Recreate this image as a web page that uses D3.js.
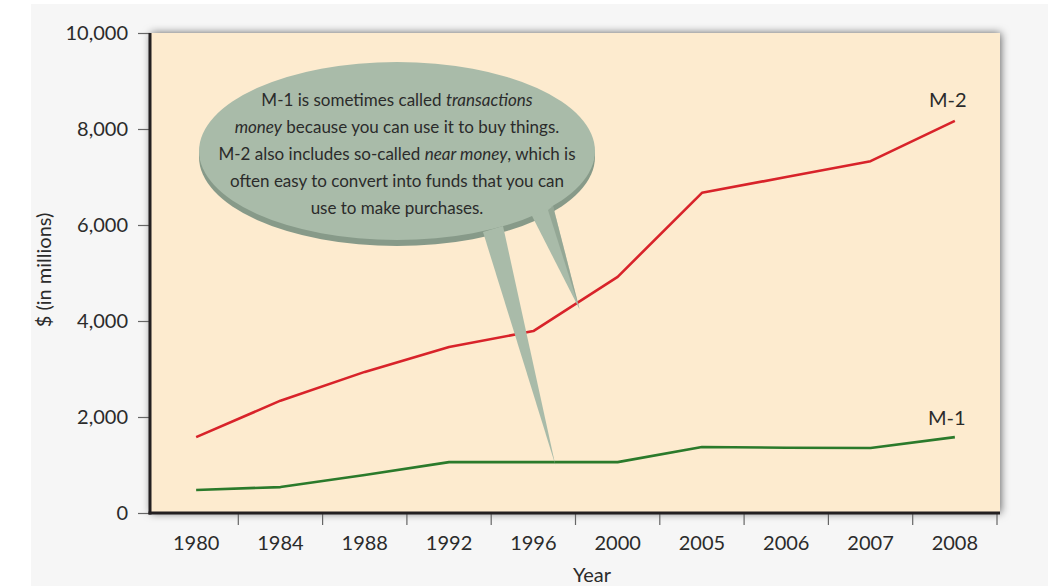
<!DOCTYPE html>
<html>
<head>
<meta charset="utf-8">
<script src="https://cdn.jsdelivr.net/npm/d3@7"></script>
<style>
  html, body { margin: 0; padding: 0; background: #ffffff; }
  svg { display: block; }
  text { font-family: Lato, "Open Sans", sans-serif; fill: #2b2b2b; }
</style>
</head>
<body>
<svg id="chart" width="1048" height="586"></svg>
<script>
// ---- data ----
const years = ["1980", "1984", "1988", "1992", "1996", "2000", "2005", "2006", "2007", "2008"];
const m2Values = [1580, 2340, 2940, 3460, 3790, 4920, 6670, 7000, 7330, 8170];
const m1Values = [480, 540, 790, 1060, 1060, 1060, 1375, 1360, 1355, 1580];
const yTicks = [0, 2000, 4000, 6000, 8000, 10000];
const seriesNames = ["M-2", "M-1"];
const calloutLines = [
  [["M-1 is sometimes called ", false], ["transactions", true]],
  [["money", true], [" because you can use it to buy things.", false]],
  [["M-2 also includes so-called ", false], ["near money", true], [", which is", false]],
  [["often easy to convert into funds that you can", false]],
  [["use to make purchases.", false]]
];

// ---- layout ----
const W = 1048, H = 586;
const frame = { left: 150, right: 1000, top: 33, bottom: 513 };

const svg = d3.select("#chart");

// page background
svg.append("rect").attr("x", 0).attr("y", 0).attr("width", W).attr("height", H).attr("fill", "#ffffff");
svg.append("rect").attr("x", 31).attr("y", 4).attr("width", W - 31).attr("height", H - 4).attr("fill", "#f6f6f6");

const defs = svg.append("defs");
const f = defs.append("filter").attr("id", "shadow").attr("x", "-5%").attr("y", "-5%").attr("width", "110%").attr("height", "110%");
f.append("feDropShadow").attr("dx", 1).attr("dy", 0).attr("stdDeviation", 4).attr("flood-color", "#000").attr("flood-opacity", 0.6);

// scales
const x = d3.scaleBand().domain(years).range([154, 997]).paddingInner(0).paddingOuter(0);
const y = d3.scaleLinear().domain([0, 10000]).range([frame.bottom, frame.top]);
const cx = d => x(d) + x.bandwidth() / 2;

// plot frame
svg.append("rect")
  .attr("x", frame.left).attr("y", frame.top)
  .attr("width", frame.right - frame.left).attr("height", frame.bottom - frame.top)
  .attr("fill", "#fdebcf")
  .attr("filter", "url(#shadow)");

// y axis ticks & labels
const yAxisG = svg.append("g").attr("transform", `translate(${frame.left},0)`)
  .call(d3.axisLeft(y).tickValues(yTicks).tickFormat(d3.format(",")).tickSize(12).tickPadding(10));
yAxisG.select(".domain").remove();
yAxisG.selectAll(".tick line").attr("stroke", "#666").attr("stroke-width", 1.2);
yAxisG.selectAll(".tick text").attr("font-size", 20).attr("fill", "#2b2b2b").style("font-family", "Lato, 'Open Sans', sans-serif");

// x axis: ticks at band boundaries, labels at band centers
const xAxisG = svg.append("g").attr("transform", `translate(0,${frame.bottom})`);
xAxisG.selectAll("line.xt").data(years).enter().append("line")
  .attr("class", "xt")
  .attr("x1", d => x(d) + x.bandwidth()).attr("x2", d => x(d) + x.bandwidth())
  .attr("y1", 0).attr("y2", 12)
  .attr("stroke", "#666").attr("stroke-width", 1.2);
xAxisG.selectAll("text.xl").data(years).enter().append("text")
  .attr("class", "xl")
  .attr("x", d => cx(d)).attr("y", 37)
  .attr("text-anchor", "middle").attr("font-size", 20)
  .text(d => d);

// axis lines (dark)
svg.append("line").attr("x1", frame.left).attr("x2", frame.left).attr("y1", frame.top).attr("y2", frame.bottom + 1.5)
  .attr("stroke", "#231f20").attr("stroke-width", 3);
svg.append("line").attr("x1", frame.left - 1.5).attr("x2", frame.right).attr("y1", frame.bottom).attr("y2", frame.bottom)
  .attr("stroke", "#231f20").attr("stroke-width", 3);

// axis titles
svg.append("text").attr("x", 592).attr("y", 582).attr("text-anchor", "middle").attr("font-size", 20).text("Year");
svg.append("text").attr("transform", "translate(51,270) rotate(-90)").attr("text-anchor", "middle")
  .attr("font-size", 20).text("$ (in millions)");

// lines
const line = d3.line().x((d, i) => cx(years[i])).y(d => y(d));
svg.append("path").datum(m2Values).attr("d", line)
  .attr("fill", "none").attr("stroke", "#d8232a").attr("stroke-width", 2.6).attr("stroke-linejoin", "round");
svg.append("path").datum(m1Values).attr("d", line)
  .attr("fill", "none").attr("stroke", "#2b7a2b").attr("stroke-width", 2.6).attr("stroke-linejoin", "round");

// series labels
const last = years.length - 1;
svg.append("text").attr("x", cx(years[last]) - 7).attr("y", y(m2Values[last]) - 14)
  .attr("text-anchor", "middle").attr("font-size", 20).text(seriesNames[0]);
svg.append("text").attr("x", cx(years[last]) - 8).attr("y", y(m1Values[last]) - 12)
  .attr("text-anchor", "middle").attr("font-size", 20).text(seriesNames[1]);

// callout bubble
const bub = { cx: 397, cy: 151, rx: 198, ry: 89 };
const light = "#a9bba9", dark = "#879a89";
const g = svg.append("g");
g.append("ellipse").attr("cx", bub.cx).attr("cy", bub.cy + 6).attr("rx", bub.rx).attr("ry", bub.ry).attr("fill", dark);
// tails (tips point at the lines)
const tip1 = [cx("1996") + 22, y(m1Values[4]) + 3];
const tip2 = [cx("2000") - 38, y(m2Values[4] + 450)];
g.append("path").attr("d", `M483,232 L${tip1[0]},${tip1[1]} L503,226 Z`).attr("fill", light);
g.append("path").attr("d", `M530,212 L${tip2[0]},${tip2[1]} L553,206 Z`).attr("fill", light);
g.append("path").attr("d", `M548,210 L${tip2[0]},${tip2[1]} L553,206 Z`).attr("fill", dark).attr("opacity", 0.6);
g.append("ellipse").attr("cx", bub.cx).attr("cy", bub.cy).attr("rx", bub.rx).attr("ry", bub.ry).attr("fill", light);

const tg = g.append("g");
calloutLines.forEach((parts, i) => {
  const t = tg.append("text").attr("x", bub.cx).attr("y", 106 + i * 27)
    .attr("text-anchor", "middle").attr("font-size", 17).attr("fill", "#222");
  parts.forEach(([s, it]) => {
    t.append("tspan").text(s).attr("font-style", it ? "italic" : "normal");
  });
});
</script>
</body>
</html>
